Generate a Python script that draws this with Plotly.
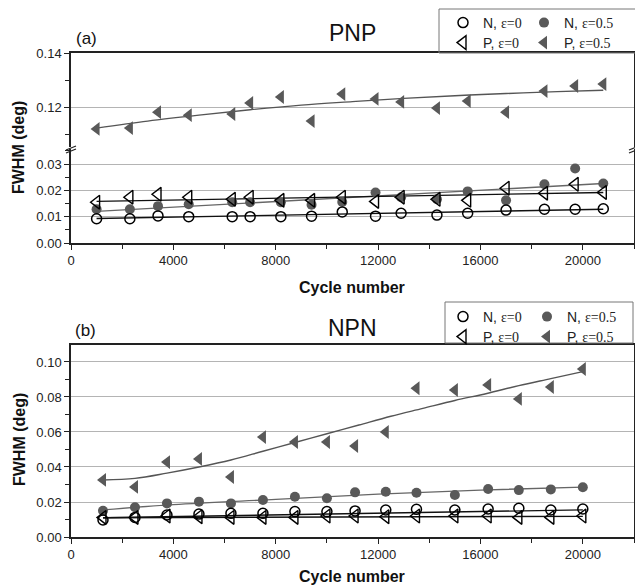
import plotly.graph_objects as go

W, H = 635, 587
FONT = "Arial, 'Liberation Sans', sans-serif"
SERIF = "'Liberation Serif', 'Times New Roman', serif"

# ---------------- data: panel (a) PNP ----------------
x_a = [1000, 2300, 3400, 4600, 6300, 7000, 8200, 9400, 10600, 11900, 12900,
       14300, 15500, 17000, 18500, 19700, 20800]
N0_a = [0.0092, 0.0092, 0.0103, 0.0100, 0.0100, 0.0100, 0.0100, 0.0102, 0.0118,
        0.0102, 0.0113, 0.0106, 0.0113, 0.0125, 0.0128, 0.0128, 0.0130]
N05_a = [0.0128, 0.0128, 0.0140, 0.0147, 0.0155, 0.0155, 0.0155, 0.0145, 0.0156,
         0.0192, 0.0174, 0.0166, 0.0196, 0.0162, 0.0223, 0.0283, 0.0226]
P0_a = [0.0155, 0.0174, 0.0185, 0.0174, 0.0166, 0.0174, 0.0162, 0.0162, 0.0174,
        0.0158, 0.0174, 0.0166, 0.0162, 0.0208, 0.0189, 0.0223, 0.0192]
P05_a = [0.1119, 0.1122, 0.1181, 0.1170, 0.1174, 0.1215, 0.1237, 0.1148, 0.1248,
         0.1230, 0.1219, 0.1196, 0.1222, 0.1181, 0.1259, 0.1278, 0.1285]

fitN0_a_x = [1000, 20800]
fitN0_a_y = [0.0093, 0.0128]
fitN05_a_x = [1000, 20800]
fitN05_a_y = [0.0120, 0.0226]
fitP0_a_x = [1000, 20800]
fitP0_a_y = [0.0158, 0.0192]
fitP05_a_x = [1000, 3000, 5000, 7000, 9000, 11000, 13000, 15000, 17000, 19000, 20800]
fitP05_a_y = [0.1122, 0.1148, 0.1170, 0.1190, 0.1207, 0.1220, 0.1232, 0.1242,
              0.1250, 0.1257, 0.1262]

# ---------------- data: panel (b) NPN ----------------
x_b = [1250, 2500, 3750, 5000, 6250, 7500, 8750, 10000, 11100, 12300, 13500,
       15000, 16300, 17500, 18750, 20000]
N0_b = [0.0097, 0.0112, 0.0126, 0.0131, 0.0135, 0.0135, 0.0145, 0.0145, 0.0149,
        0.0154, 0.0158, 0.0154, 0.0160, 0.0164, 0.0154, 0.0160]
N05_b = [0.0150, 0.0170, 0.0192, 0.0202, 0.0192, 0.0211, 0.0230, 0.0221, 0.0255,
         0.0259, 0.0253, 0.0240, 0.0274, 0.0268, 0.0272, 0.0284]
P0_b = [0.0112, 0.0112, 0.0120, 0.0116, 0.0112, 0.0112, 0.0112, 0.0120, 0.0120,
        0.0116, 0.0120, 0.0120, 0.0120, 0.0112, 0.0112, 0.0120]
P05_b = [0.0326, 0.0286, 0.0428, 0.0446, 0.0343, 0.0571, 0.0543, 0.0543, 0.0520,
         0.0600, 0.0850, 0.0840, 0.0869, 0.0789, 0.0857, 0.0960]

fitN0_b_x = [1250, 20000]
fitN0_b_y = [0.0110, 0.0155]
fitP0_b_x = [1250, 20000]
fitP0_b_y = [0.0110, 0.0118]
fitN05_b_x = [1250, 4000, 8000, 12000, 16000, 20000]
fitN05_b_y = [0.0155, 0.0185, 0.0215, 0.0245, 0.0268, 0.0285]
fitP05_b_x = [1250, 2500, 3750, 5000, 6250, 7500, 8750, 10000, 11250, 12500,
              13750, 15000, 16250, 17500, 18750, 20000]
fitP05_b_y = [0.0326, 0.0335, 0.0365, 0.0400, 0.0440, 0.0490, 0.0540, 0.0590,
              0.0640, 0.0690, 0.0735, 0.0780, 0.0820, 0.0865, 0.0905, 0.0945]

# ticks
x_ticks = [0, 4000, 8000, 12000, 16000, 20000]
x_ticktext = ["0", "4000", "8000", "12000", "16000", "20000"]
ya_low_ticks = [0.00, 0.01, 0.02, 0.03]
ya_low_text = ["0.00", "0.01", "0.02", "0.03"]
ya_up_ticks = [0.12, 0.14]
ya_up_text = ["0.12", "0.14"]
yb_ticks = [0.00, 0.02, 0.04, 0.06, 0.08, 0.10]
yb_text = ["0.00", "0.02", "0.04", "0.06", "0.08", "0.10"]

names = ["N, <span style=\"font-family:%s\">ε=0</span>" % SERIF,
         "N, <span style=\"font-family:%s\">ε=0.5</span>" % SERIF,
         "P, <span style=\"font-family:%s\">ε=0</span>" % SERIF,
         "P, <span style=\"font-family:%s\">ε=0.5</span>" % SERIF]

GRAY = "#595959"


def px(p):
    return p / W


def py(p):
    return 1 - p / H


fig = go.Figure()


def line(x, y, xa, ya, color, shape="linear"):
    fig.add_trace(go.Scatter(x=x, y=y, xaxis=xa, yaxis=ya, mode="lines",
                             line=dict(color=color, width=1.4, shape=shape),
                             showlegend=False, hoverinfo="skip"))


def markers(x, y, xa, ya, kind, name, legend, rank, lw):
    if kind == "N0":
        m = dict(symbol="circle-open", size=10, color="black", line=dict(width=1.5, color="black"))
    elif kind == "N05":
        m = dict(symbol="circle", size=10, color=GRAY, line=dict(width=0))
    elif kind == "P0":
        m = dict(symbol="triangle-left-open", size=12, color="black", line=dict(width=1.4, color="black"))
    else:
        m = dict(symbol="triangle-left", size=12, color=GRAY, line=dict(width=0))
    fig.add_trace(go.Scatter(x=x, y=y, xaxis=xa, yaxis=ya, mode="markers",
                             marker=m, name=name, legend=legend, legendrank=rank,
                             legendwidth=lw))


# panel (a) lines
line(fitN0_a_x, fitN0_a_y, "x", "y", "#111111")
line(fitN05_a_x, fitN05_a_y, "x", "y", "#666666")
line(fitP0_a_x, fitP0_a_y, "x", "y", "#111111")
line(fitP05_a_x, fitP05_a_y, "x2", "y2", "#555555", "spline")
# panel (a) markers
markers(x_a, N05_a, "x", "y", "N05", names[1], "legend", 2, 70)
markers(x_a, N0_a, "x", "y", "N0", names[0], "legend", 1, 36)
markers(x_a, P0_a, "x", "y", "P0", names[2], "legend2", 1, 36)
markers(x_a, P05_a, "x2", "y2", "P05", names[3], "legend2", 2, 70)

# panel (b) lines
line(fitN0_b_x, fitN0_b_y, "x3", "y3", "#111111")
line(fitP0_b_x, fitP0_b_y, "x3", "y3", "#111111")
line(fitN05_b_x, fitN05_b_y, "x3", "y3", "#666666", "spline")
line(fitP05_b_x, fitP05_b_y, "x3", "y3", "#555555", "spline")
# panel (b) markers
markers(x_b, N05_b, "x3", "y3", "N05", names[1], "legend3", 2, 70)
markers(x_b, N0_b, "x3", "y3", "N0", names[0], "legend3", 1, 39)
markers(x_b, P0_b, "x3", "y3", "P0", names[2], "legend4", 1, 39)
markers(x_b, P05_b, "x3", "y3", "P05", names[3], "legend4", 2, 70)

XDOM = [px(71), px(634)]
AX = dict(showline=True, linecolor="#222222", linewidth=1.5, ticks="outside",
          ticklen=5, tickwidth=1.2, tickcolor="#222222", automargin=False,
          tickfont=dict(family=FONT, size=13, color="#222222"), zeroline=False)
GRID = dict(showgrid=True, gridcolor="#b4b4b4", gridwidth=1)

fig.update_layout(
    width=W, height=H, autosize=False,
    margin=dict(l=0, r=0, t=0, b=0, pad=0, autoexpand=False),
    paper_bgcolor="white", plot_bgcolor="white",
    font=dict(family=FONT, size=13, color="#222222"),
    xaxis=dict(domain=XDOM, anchor="y", range=[0, 22000], tickmode="array",
               tickvals=x_ticks, ticktext=x_ticktext, showgrid=False,
               minor=dict(dtick=2000, tick0=0, ticks="outside", ticklen=4, tickcolor="#222222"),
               **AX),
    yaxis=dict(domain=[py(243), py(149)], anchor="x", range=[0, 0.0357],
               tickmode="array", tickvals=ya_low_ticks, ticktext=ya_low_text,
               mirror=True,
               minor=dict(dtick=0.005, tick0=0, ticks="outside", ticklen=4, tickcolor="#222222"),
               **GRID, **AX),
    xaxis2=dict(domain=XDOM, anchor="y2", matches="x", side="top", showline=True,
                linecolor="#222222", linewidth=1.5, showticklabels=False, ticks="",
                showgrid=False, zeroline=False, automargin=False),
    yaxis2=dict(domain=[py(147), py(53)], anchor="x2", range=[0.1052, 0.14],
                tickmode="array", tickvals=ya_up_ticks, ticktext=ya_up_text,
                mirror=True,
                minor=dict(dtick=0.01, tick0=0.1, ticks="outside", ticklen=4, tickcolor="#222222"),
                **GRID, **AX),
    xaxis3=dict(domain=XDOM, anchor="y3", range=[0, 22000], tickmode="array",
                tickvals=x_ticks, ticktext=x_ticktext, showgrid=False, mirror=True,
                minor=dict(dtick=2000, tick0=0, ticks="outside", ticklen=4, tickcolor="#222222"),
                **AX),
    yaxis3=dict(domain=[py(537), py(345)], anchor="x3", range=[0, 0.1097],
                tickmode="array", tickvals=yb_ticks, ticktext=yb_text, mirror=True,
                minor=dict(dtick=0.01, tick0=0, ticks="outside", ticklen=4, tickcolor="#222222"),
                **GRID, **AX),
)

LEG = dict(orientation="h", xanchor="left", yanchor="middle", bgcolor="rgba(0,0,0,0)",
           borderwidth=0, font=dict(family=FONT, size=14, color="#222222"),
           entrywidthmode="pixels", itemclick=False, itemdoubleclick=False,
           tracegroupgap=0, traceorder="normal")
fig.update_layout(
    legend=dict(x=px(443), y=py(23), **LEG),
    legend2=dict(x=px(443), y=py(43), **LEG),
    legend3=dict(x=px(443), y=py(317), **LEG),
    legend4=dict(x=px(443), y=py(337), **LEG),
)

shapes = [
    dict(type="rect", xref="paper", yref="paper", x0=px(439), x1=px(645), y0=py(53), y1=py(9),
         line=dict(color="#777777", width=1)),
    dict(type="rect", xref="paper", yref="paper", x0=px(445), x1=px(633), y0=py(343), y1=py(302),
         line=dict(color="#777777", width=1)),
]
# axis-break marks
for bx in (71, 634):
    for dy in (0, 3):
        shapes.append(dict(type="line", xref="paper", yref="paper",
                           x0=px(bx - 5), y0=py(150 + dy), x1=px(bx + 5), y1=py(146 + dy),
                           line=dict(color="#222222", width=1.2)))
fig.update_layout(shapes=shapes)

ann = [
    dict(text="(a)", x=px(74), y=py(38), xanchor="left", font=dict(size=17)),
    dict(text="PNP", x=px(352), y=py(33), font=dict(size=23)),
    dict(text="(b)", x=px(73), y=py(330), xanchor="left", font=dict(size=17)),
    dict(text="NPN", x=px(352), y=py(328), font=dict(size=23)),
    dict(text="<b>Cycle number</b>", x=px(352), y=py(288), font=dict(size=16)),
    dict(text="<b>Cycle number</b>", x=px(352), y=py(576), font=dict(size=16)),
    dict(text="<b>FWHM (deg)</b>", x=px(19), y=py(148), textangle=-90, font=dict(size=16)),
    dict(text="<b>FWHM (deg)</b>", x=px(19), y=py(440), textangle=-90, font=dict(size=16)),
]
for a in ann:
    a.update(xref="paper", yref="paper", showarrow=False, yanchor="middle")
    a.setdefault("xanchor", "center")
    a["font"].update(family=FONT, color="#111111")
fig.update_layout(annotations=ann)

fig.write_html("out.html", config={"displayModeBar": False},
               post_script="document.body.style.margin='0px';document.body.style.overflow='hidden';")
